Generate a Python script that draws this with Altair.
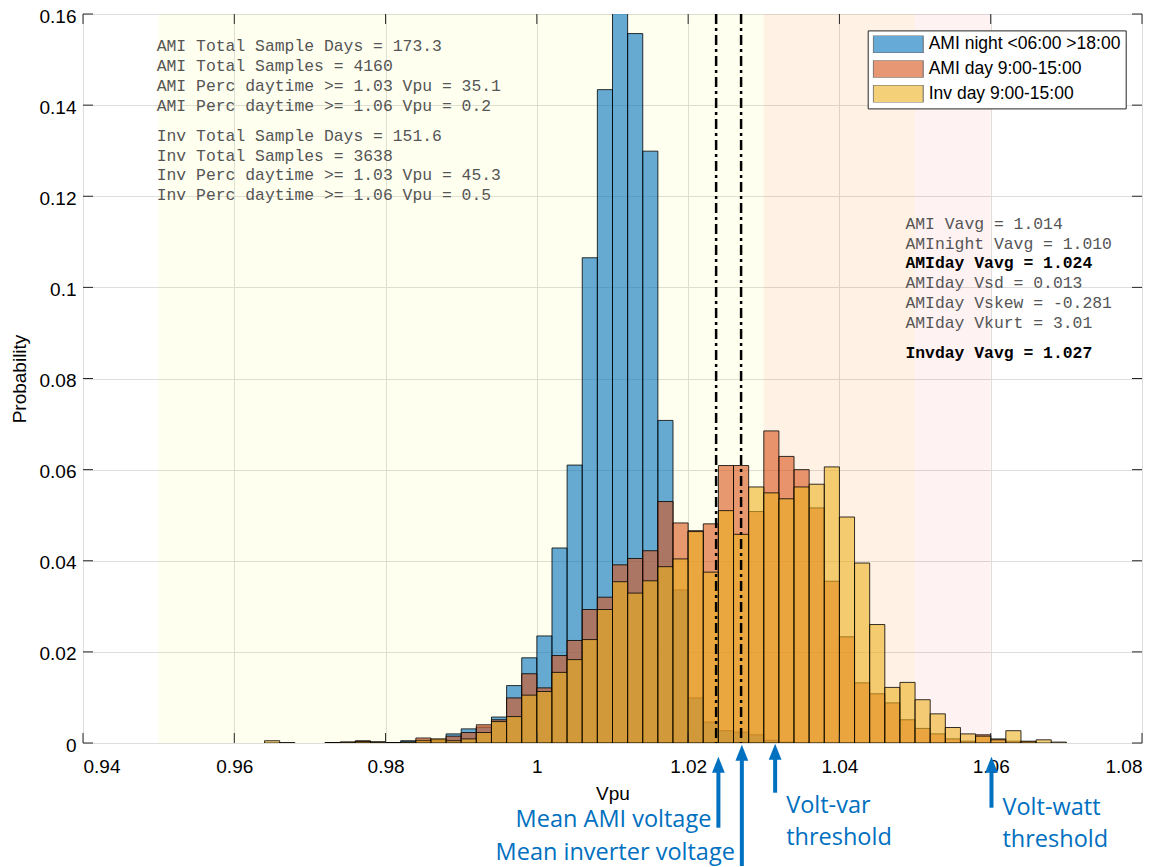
import altair as alt
import pandas as pd

# ---------------- data ----------------
bin_left = [0.962, 0.964, 0.966, 0.968, 0.970, 0.972, 0.974, 0.976, 0.978, 0.980,
            0.982, 0.984, 0.986, 0.988, 0.990, 0.992, 0.994, 0.996, 0.998, 1.000,
            1.002, 1.004, 1.006, 1.008, 1.010, 1.012, 1.014, 1.016, 1.018, 1.020,
            1.022, 1.024, 1.026, 1.028, 1.030, 1.032, 1.034, 1.036, 1.038, 1.040,
            1.042, 1.044, 1.046, 1.048, 1.050, 1.052, 1.054, 1.056, 1.058, 1.060,
            1.062, 1.064, 1.066, 1.068]
BIN_W = 0.002

ami_night = [0, 0, 0, 0, 0, 0.0001, 0.0002, 0.0003, 0.0002, 0.0001,
             0.0005, 0.0004, 0.0006, 0.0020, 0.0031, 0.0035, 0.0057, 0.0126, 0.0187, 0.0235,
             0.0428, 0.0610, 0.1065, 0.1434, 0.1650, 0.1557, 0.1299, 0.0708, 0.0336, 0.0099,
             0.0046, 0.0027, 0.0024, 0.0018, 0.0006, 0.0002, 0, 0, 0, 0,
             0, 0, 0, 0, 0, 0, 0, 0, 0, 0,
             0, 0, 0, 0]
ami_day = [0, 0, 0, 0, 0, 0, 0.0001, 0.0005, 0.0002, 0,
           0.0002, 0.0011, 0.0008, 0.0015, 0.0023, 0.0040, 0.0051, 0.0099, 0.0152, 0.0121,
           0.0192, 0.0225, 0.0293, 0.0320, 0.0391, 0.0405, 0.0422, 0.0530, 0.0483, 0.0466,
           0.0481, 0.0609, 0.0609, 0.0508, 0.0685, 0.0629, 0.0600, 0.0516, 0.0355, 0.0233,
           0.0132, 0.0108, 0.0088, 0.0051, 0.0032, 0.0020, 0.0009, 0.0004, 0.0018, 0.0009,
           0.0004, 0.0003, 0, 0]
inv_day = [0, 0.0005, 0.0001, 0, 0, 0.0001, 0.0002, 0.0003, 0.0002, 0.0001,
           0.0002, 0.0006, 0.0009, 0.0005, 0.0009, 0.0023, 0.0047, 0.0058, 0.0105, 0.0113,
           0.0155, 0.0183, 0.0227, 0.0293, 0.0354, 0.0329, 0.0356, 0.0387, 0.0404, 0.0464,
           0.0375, 0.0510, 0.0458, 0.0562, 0.0549, 0.0536, 0.0562, 0.0568, 0.0606, 0.0496,
           0.0395, 0.0260, 0.0122, 0.0133, 0.0095, 0.0064, 0.0034, 0.0020, 0.0015, 0.0007,
           0.0027, 0.0004, 0.0007, 0.0002]

series_names = ["AMI night <06:00 >18:00", "AMI day 9:00-15:00", "Inv day 9:00-15:00"]
series_colors = ["#0072BD", "#D95319", "#EDB120"]

x_ticks = [0.94, 0.96, 0.98, 1.00, 1.02, 1.04, 1.06, 1.08]
y_ticks = [0, 0.02, 0.04, 0.06, 0.08, 0.10, 0.12, 0.14, 0.16]

# shaded voltage zones
zone_lo = [0.95, 1.03, 1.05]
zone_hi = [1.03, 1.05, 1.06]
zone_color = ["#FFFF00", "#FF8000", "#FF0000"]
zone_opacity = [0.06, 0.10, 0.05]

# mean voltage lines (AMI day, inverter day)
mean_lines = [1.0237, 1.027]

# arrows below the axis
arrow_x = [1.0240, 1.0271, 1.0315, 1.0601]
arrow_tip = [742.7, 730.7, 729.7, 742.7]      # pixel, from plot top
arrow_end = [813.7, 852.0, 778.7, 793.7]
ann_left_text = ["Mean AMI voltage", "Mean inverter voltage"]
ann_left_x = [1.0240, 1.0271]
ann_left_py = [805.7, 838.7]
ann_right_text = ["Volt-var", "threshold", "Volt-watt", "threshold"]
ann_right_x = [1.0315, 1.0315, 1.0601, 1.0601]
ann_right_py = [791.7, 823.7, 793.7, 825.7]

stats_left = ["AMI Total Sample Days = 173.3", "AMI Total Samples = 4160",
              "AMI Perc daytime >= 1.03 Vpu = 35.1", "AMI Perc daytime >= 1.06 Vpu = 0.2",
              "Inv Total Sample Days = 151.6", "Inv Total Samples = 3638",
              "Inv Perc daytime >= 1.03 Vpu = 45.3", "Inv Perc daytime >= 1.06 Vpu = 0.5"]
stats_left_py = [32.4, 52.4, 72.4, 92.4, 121.7, 141.7, 161.4, 181.4]
stats_right = ["AMI Vavg = 1.014", "AMInight Vavg = 1.010", "AMIday Vavg = 1.024",
               "AMIday Vsd = 0.013", "AMIday Vskew = -0.281", "AMIday Vkurt = 3.01",
               "Invday Vavg = 1.027"]
stats_right_py = [209.7, 229.7, 249.0, 269.0, 289.0, 309.0, 339.0]
stats_right_bold = [False, False, True, False, False, False, True]

W, H = 1059, 729
FONT = "Liberation Sans"
AX_COLOR = "#262626"
ANN_BLUE = "#0070C0"

# ---------------- tables ----------------
rows = []
for name, vals in zip(series_names, [ami_night, ami_day, inv_day]):
    for lo, v in zip(bin_left, vals):
        if v > 0:
            rows.append({"series": name, "lo": lo, "hi": round(lo + BIN_W, 4), "p": v, "base": 0.0})
bars_df = pd.DataFrame(rows)

zones_df = pd.DataFrame({"lo": zone_lo, "hi": zone_hi, "c": zone_color, "o": zone_opacity,
                         "ylo": [0] * 3, "yhi": [0.16] * 3})
means_df = pd.DataFrame({"m": mean_lines})
arrows_df = pd.DataFrame({"ax": arrow_x, "tip": arrow_tip, "end": arrow_end})
arrows_df["shaft"] = arrows_df["tip"] + 12
arrows_df["head"] = arrows_df["tip"] + 8
annL_df = pd.DataFrame({"ax": ann_left_x, "t": ann_left_text, "py": ann_left_py})
annR_df = pd.DataFrame({"ax": ann_right_x, "t": ann_right_text, "py": ann_right_py})
statsL_df = pd.DataFrame({"t": stats_left, "py": stats_left_py})
statsR_df = pd.DataFrame({"t": stats_right, "py": stats_right_py, "b": stats_right_bold})
xt_df = pd.DataFrame({"t": x_ticks})
yt_df = pd.DataFrame({"t": y_ticks})

xscale = alt.Scale(domain=[0.94, 1.08], nice=False, zero=False)
yscale = alt.Scale(domain=[0, 0.16], nice=False, zero=False)
xaxis = alt.Axis(values=x_ticks, format="~g", grid=True, ticks=False, tickSize=0, domain=False,
                 labelPadding=14, titlePadding=8, labelFontSize=19, titleFontSize=19,
                 titleFontWeight="normal")
yaxis = alt.Axis(values=y_ticks, format="~g", grid=True, ticks=False, tickSize=0, domain=False,
                 labelPadding=7, labelOffset=2, titlePadding=10, labelFontSize=19,
                 titleFontSize=19, titleFontWeight="normal")


def X(field):
    return alt.X(field, scale=xscale, axis=xaxis, title="Vpu")


def Y(field):
    return alt.Y(field, scale=yscale, axis=yaxis, title="Probability")


zones = alt.Chart(zones_df).mark_rect().encode(
    x=X("lo:Q"), x2="hi:Q", y=Y("ylo:Q"), y2="yhi:Q",
    color=alt.Color("c:N", scale=None), opacity=alt.Opacity("o:Q", scale=None),
)

bars = alt.Chart(bars_df).mark_rect(fillOpacity=0.6, stroke="black", strokeWidth=1,
                                    strokeOpacity=0.8, clip=True).encode(
    x=X("lo:Q"), x2="hi:Q",
    y=Y("p:Q"), y2="base:Q",
    color=alt.Color("series:N", scale=alt.Scale(domain=series_names, range=series_colors),
                    legend=alt.Legend(title=None, orient="none", legendX=784.7, legendY=16.4,
                                      direction="vertical",
                                      symbolType="M-1,-0.352L1,-0.352L1,0.352L-1,0.352Z",
                                      symbolSize=2500, symbolStrokeColor="black",
                                      symbolStrokeWidth=1, symbolOpacity=0.6,
                                      clipHeight=17.6, rowPadding=5.8, padding=5,
                                      labelFont=FONT, labelFontSize=17.5, labelColor="black",
                                      labelOffset=5, labelLimit=400,
                                      fillColor="white", strokeColor=AX_COLOR)),
)

means = alt.Chart(means_df).mark_rule(color="black", strokeWidth=2.5,
                                      strokeDash=[10, 4, 3, 4]).encode(x=X("m:Q"))

tick_style = dict(color=AX_COLOR, strokeWidth=1)
ticks_bottom = alt.Chart(xt_df).mark_rule(**tick_style).encode(
    x=X("t:Q"), y=alt.value(H), y2=alt.value(H - 10))
ticks_top = alt.Chart(xt_df).mark_rule(**tick_style).encode(
    x=X("t:Q"), y=alt.value(0), y2=alt.value(10))
ticks_left = alt.Chart(yt_df).mark_rule(**tick_style).encode(
    y=Y("t:Q"), x=alt.value(0), x2=alt.value(10))
ticks_right = alt.Chart(yt_df).mark_rule(**tick_style).encode(
    y=Y("t:Q"), x=alt.value(W), x2=alt.value(W - 10))

shafts = alt.Chart(arrows_df).mark_rule(color=ANN_BLUE, strokeWidth=4).encode(
    x=X("ax:Q"), y=alt.Y("shaft:Q", scale=None, axis=None), y2="end:Q")
heads = alt.Chart(arrows_df).mark_point(shape="M0,-1L-0.8,1L0.8,1Z", size=256, filled=True,
                                        color=ANN_BLUE, opacity=1).encode(
    x=X("ax:Q"), y=alt.Y("head:Q", scale=None, axis=None))

ann_font = dict(font="Open Sans", fontSize=23.5, color=ANN_BLUE, baseline="middle")
annL = alt.Chart(annL_df).mark_text(align="right", dx=-7, **ann_font).encode(
    x=X("ax:Q"), y=alt.Y("py:Q", scale=None, axis=None), text="t:N")
annR = alt.Chart(annR_df).mark_text(align="left", dx=11, **ann_font).encode(
    x=X("ax:Q"), y=alt.Y("py:Q", scale=None, axis=None), text="t:N")

mono = dict(font="Liberation Mono", fontSize=16.4, baseline="middle", align="left")
statsL = alt.Chart(statsL_df).mark_text(color="#555555", **mono).encode(
    x=alt.value(73.7), y=alt.Y("py:Q", scale=None, axis=None), text="t:N")
statsR_n = alt.Chart(statsR_df).transform_filter("!datum.b").mark_text(color="#555555", **mono).encode(
    x=alt.value(822.4), y=alt.Y("py:Q", scale=None, axis=None), text="t:N")
statsR_b = alt.Chart(statsR_df).transform_filter("datum.b").mark_text(
    color="black", fontWeight="bold", **mono).encode(
    x=alt.value(822.4), y=alt.Y("py:Q", scale=None, axis=None), text="t:N")

chart = alt.layer(
    zones, bars, means, ticks_bottom, ticks_top, ticks_left, ticks_right,
    shafts, heads, annL, annR, statsL, statsR_n, statsR_b,
).properties(
    width=W, height=H,
    autosize=alt.AutoSizeParams(type="none"),
    padding={"left": 75, "top": 6, "right": 10, "bottom": 124},
).configure_view(
    stroke=AX_COLOR, strokeWidth=1
).configure_axis(
    labelFont=FONT, titleFont=FONT, labelColor=AX_COLOR, titleColor=AX_COLOR,
    titleFontWeight="normal", gridColor="#DEDEDE", gridWidth=1
).configure(background="white")

chart.save("out.html", embed_options={"renderer": "svg", "actions": False})
